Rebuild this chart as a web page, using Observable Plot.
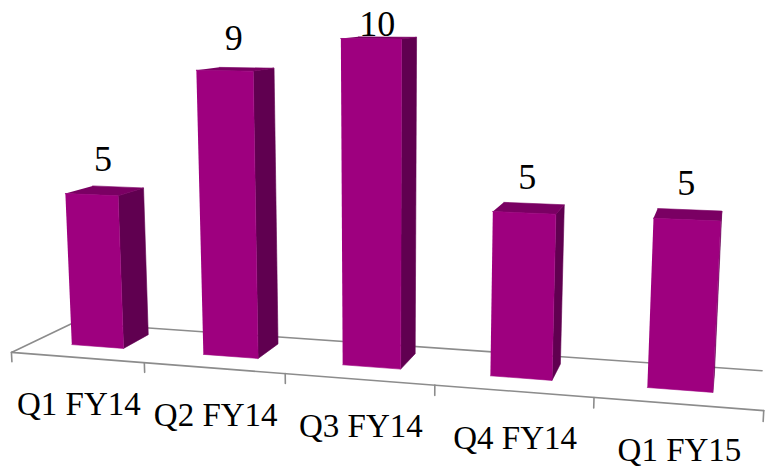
<!DOCTYPE html>
<html>
<head>
<meta charset="utf-8">
<script src="https://cdn.jsdelivr.net/npm/d3@7"></script>
<script src="https://cdn.jsdelivr.net/npm/@observablehq/plot@0.6"></script>
<style>
  html, body { margin: 0; padding: 0; background: #ffffff; }
</style>
</head>
<body>
<div id="chart"></div>
<script>
// ---- data ----
const categories = ["Q1 FY14", "Q2 FY14", "Q3 FY14", "Q4 FY14", "Q1 FY15"];
const values = [5, 9, 10, 5, 5];
const valueDomain = [0, 10];

// ---- 3D scene (world units) and camera ----
const X_LEFT = -2.0, X_RIGHT = 0.088;   // floor extent along the category axis
const FLOOR_Y = -1, TOP_Y = -0.1;       // heights of value 0 and value 10
const Z_FRONT = 3.272, FLOOR_DEPTH = 0.369;
const cam = {f: 1317, cx: 382.5, cy: 234.5, yaw: 15.2 * Math.PI / 180, pitch: 10.1 * Math.PI / 180};
const ca = Math.cos(cam.yaw), sa = Math.sin(cam.yaw), cp = Math.cos(cam.pitch), sp = Math.sin(cam.pitch);
function project([X, Y, Z]) {
  const x1 = X * ca + Z * sa;
  const z1 = -X * sa + Z * ca;
  const y2 = Y * cp + z1 * sp;
  const z2 = -Y * sp + z1 * cp;
  return [cam.cx + cam.f * x1 / z2, cam.cy - cam.f * y2 / z2];
}

// ---- Plot scales: category -> world X, value -> world Y ----
const xFloor = Plot.scale({x: {type: "band", domain: categories, range: [X_LEFT, X_RIGHT], padding: 0}});
const xBar = Plot.scale({x: {type: "band", domain: categories, range: [X_LEFT, X_RIGHT], paddingInner: 0.6, paddingOuter: 0.3, align: 0.5}});
const yVal = Plot.scale({y: {type: "linear", domain: valueDomain, range: [FLOOR_Y, TOP_Y]}});
const step = (X_RIGHT - X_LEFT) / categories.length;
const bw = xBar.bandwidth;
const zb0 = Z_FRONT + 0.3 * step, zb1 = Z_FRONT + 0.7 * step;

// ---- bar faces ----
const fronts = [], sides = [], tops = [];
function pushPoly(arr, id, pts) {
  for (const p of pts) { const [px, py] = project(p); arr.push({id, px, py}); }
}
categories.forEach((c, i) => {
  const x0 = xBar.apply(c), x1 = x0 + bw;
  const yb = yVal.apply(0), yt = yVal.apply(values[i]);
  pushPoly(sides, c, [[x1, yb, zb0], [x1, yb, zb1], [x1, yt, zb1], [x1, yt, zb0]]);
  pushPoly(tops, c, [[x0, yt, zb0], [x1, yt, zb0], [x1, yt, zb1], [x0, yt, zb1]]);
  pushPoly(fronts, c, [[x0, yb, zb0], [x1, yb, zb0], [x1, yt, zb0], [x0, yt, zb0]]);
});

// ---- floor outline and ticks ----
const floorLines = [];
pushPoly(floorLines, "front", [[X_LEFT, FLOOR_Y, Z_FRONT + FLOOR_DEPTH], [X_LEFT, FLOOR_Y, Z_FRONT], [X_RIGHT, FLOOR_Y, Z_FRONT]]);
pushPoly(floorLines, "back", [[X_LEFT, FLOOR_Y, Z_FRONT + FLOOR_DEPTH], [X_RIGHT, FLOOR_Y, Z_FRONT + FLOOR_DEPTH]]);
const tickXs = categories.map(c => xFloor.apply(c)).concat([X_RIGHT]);
tickXs.forEach((x, i) => pushPoly(floorLines, "tick" + i, [[x, FLOOR_Y, Z_FRONT], [x, FLOOR_Y - 0.028, Z_FRONT]]));

// ---- labels ----
const catLabels = categories.map(c => {
  const [px, py] = project([xFloor.apply(c) + xFloor.bandwidth / 2, FLOOR_Y, Z_FRONT]);
  return {text: c, px: px + 2, py};
});
const valLabels = categories.map((c, i) => {
  const [px, py] = project([xBar.apply(c) + bw / 2, yVal.apply(values[i]), (zb0 + zb1) / 2]);
  return {text: String(values[i]), px: px - 2, py: Math.max(py - 31, 24)};
});

const chart = Plot.plot({
  width: 765,
  height: 469,
  margin: 0,
  x: {type: "identity", axis: null},
  y: {type: "identity", axis: null},
  marks: [
    Plot.line(floorLines, {x: "px", y: "py", z: "id", stroke: "#8c8c8c", strokeWidth: 1.6}),
    Plot.line(sides, {x: "px", y: "py", z: "id", fill: "#600050", stroke: "#600050", strokeWidth: 0.6}),
    Plot.line(tops, {x: "px", y: "py", z: "id", fill: "#7a0063", stroke: "#7a0063", strokeWidth: 0.6}),
    Plot.line(fronts, {x: "px", y: "py", z: "id", fill: "#9e007f", stroke: "#9e007f", strokeWidth: 0.6}),
    Plot.text(catLabels, {x: "px", y: "py", text: "text", dy: 47, fontSize: 33, fontFamily: "Liberation Serif", fill: "#000", textAnchor: "middle", lineAnchor: "middle"}),
    Plot.text(valLabels, {x: "px", y: "py", text: "text", fontSize: 36, fontFamily: "Liberation Serif", fill: "#000", textAnchor: "middle", lineAnchor: "middle"})
  ]
});
document.getElementById("chart").appendChild(chart);
</script>
</body>
</html>
